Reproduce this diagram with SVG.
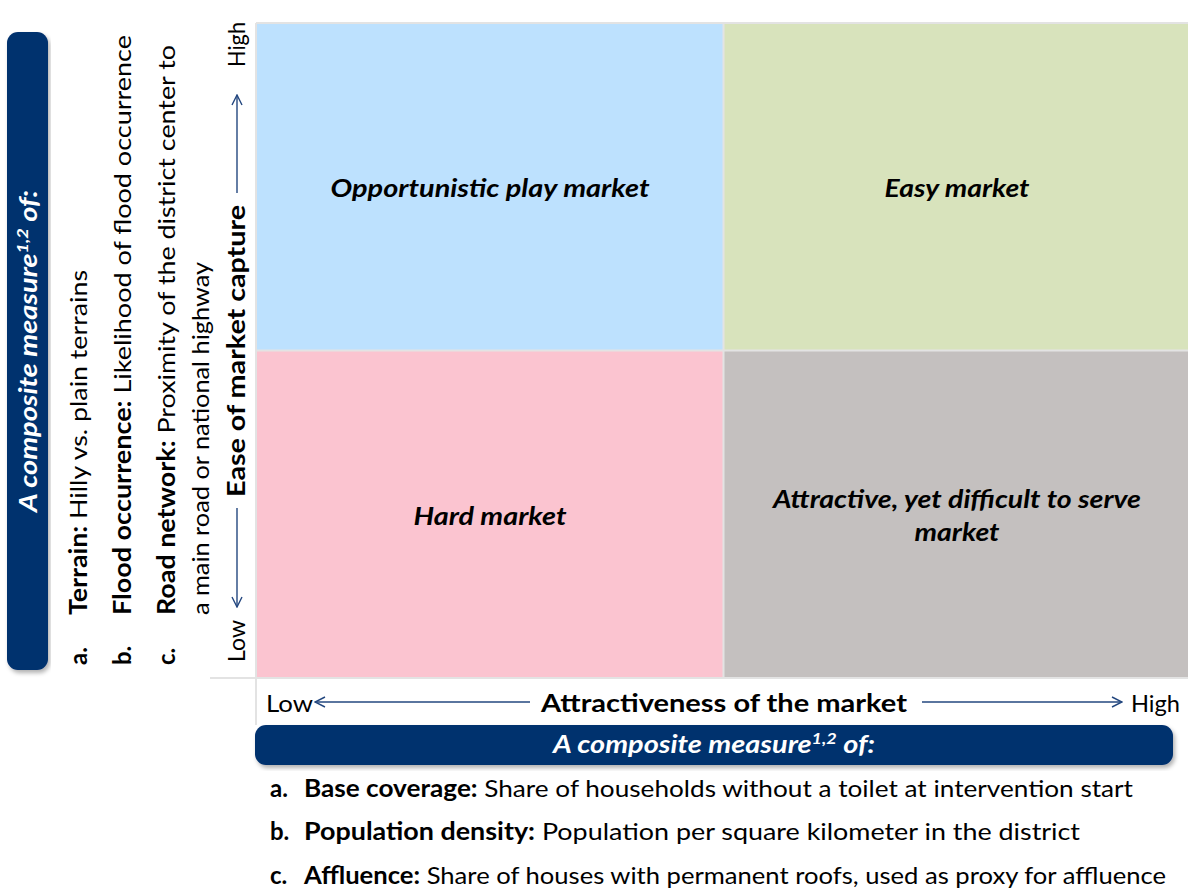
<svg xmlns="http://www.w3.org/2000/svg" width="1188" height="888" viewBox="0 0 1188 888">
<style>
text{font-family:Lato,"Liberation Sans",sans-serif;fill:#000;font-size:24px}
.b{font-weight:bold}
.q{font-weight:bold;font-style:italic;text-anchor:middle}
.w{fill:#fff;font-weight:bold;font-style:italic;text-anchor:middle}
.grid{stroke:#e3e3e3;stroke-width:2;fill:none}
.ax{stroke:#23477f;stroke-width:1.4;fill:none}
.bar{fill:#00306e}
</style>
<defs>
<marker id="ah" viewBox="0 0 12 12" refX="11" refY="6" markerWidth="12" markerHeight="12" markerUnits="userSpaceOnUse" orient="auto">
<path d="M1,1 L11,6 L1,11" fill="none" stroke="#23477f" stroke-width="1.4"/>
</marker>
<filter id="sh" x="-5%" y="-5%" width="110%" height="120%">
<feDropShadow dx="2" dy="3" stdDeviation="2" flood-color="#000" flood-opacity="0.3"/>
</filter>
</defs>
<rect width="1188" height="888" fill="#fff"/>

<g id="q-opportunistic">
<rect x="257" y="24" width="466" height="326" fill="#bde1fe"/>
<text class="q" x="490" y="197" textLength="319" lengthAdjust="spacingAndGlyphs">Opportunistic play market</text>
</g>
<g id="q-easy">
<rect x="724" y="24" width="464" height="326" fill="#d8e3bc"/>
<text class="q" x="957" y="197" textLength="145" lengthAdjust="spacingAndGlyphs">Easy market</text>
</g>
<g id="q-hard">
<rect x="257" y="351" width="466" height="326" fill="#fbc4d0"/>
<text class="q" x="490" y="525" textLength="153" lengthAdjust="spacingAndGlyphs">Hard market</text>
</g>
<g id="q-attractive">
<rect x="724" y="351" width="464" height="326" fill="#c4c0bf"/>
<text class="q" x="957" y="508" textLength="368" lengthAdjust="spacingAndGlyphs">Attractive, yet difficult to serve</text>
<text class="q" x="957" y="541" textLength="85" lengthAdjust="spacingAndGlyphs">market</text>
</g>

<g id="grid">
<line class="grid" x1="256" y1="23" x2="1188" y2="23"/>
<line class="grid" x1="256" y1="350.5" x2="1188" y2="350.5"/>
<line class="grid" x1="210" y1="678" x2="1188" y2="678"/>
<line class="grid" x1="256" y1="23" x2="256" y2="725"/>
<line class="grid" x1="723.5" y1="23" x2="723.5" y2="678"/>
</g>

<g id="connectors">
<line class="ax" x1="237" y1="193" x2="237" y2="95" marker-end="url(#ah)"/>
<line class="ax" x1="237" y1="508" x2="237" y2="607" marker-end="url(#ah)"/>
<line class="ax" x1="530" y1="702" x2="315" y2="702" marker-end="url(#ah)"/>
<line class="ax" x1="922" y1="702" x2="1122" y2="702" marker-end="url(#ah)"/>
</g>

<g id="y-axis">
<text transform="translate(245,67) rotate(-90)" textLength="45" lengthAdjust="spacingAndGlyphs">High</text>
<text transform="translate(245,662) rotate(-90)" textLength="42" lengthAdjust="spacingAndGlyphs">Low</text>
<text class="b" transform="translate(245,351) rotate(-90)" text-anchor="middle" textLength="292" lengthAdjust="spacingAndGlyphs">Ease of market capture</text>
</g>

<g id="x-axis">
<text x="266" y="712" textLength="47" lengthAdjust="spacingAndGlyphs">Low</text>
<text class="b" x="724" y="712" text-anchor="middle" textLength="366" lengthAdjust="spacingAndGlyphs">Attractiveness of the market</text>
<text x="1131" y="712" textLength="49" lengthAdjust="spacingAndGlyphs">High</text>
</g>

<g id="left-measure">
<rect class="bar" x="7" y="32" width="41" height="638" rx="11" filter="url(#sh)"/>
<text class="w" transform="translate(37,351) rotate(-90)" textLength="322" lengthAdjust="spacingAndGlyphs">A composite measure<tspan font-size="15" dy="-9">1,2</tspan><tspan dy="9"> of:</tspan></text>
</g>
<g id="left-list">
<text class="b" transform="translate(87,665) rotate(-90)">a.</text>
<text transform="translate(87,615) rotate(-90)" textLength="345" lengthAdjust="spacingAndGlyphs"><tspan class="b">Terrain:</tspan> Hilly vs. plain terrains</text>
<text class="b" transform="translate(131,665) rotate(-90)">b.</text>
<text transform="translate(131,615) rotate(-90)" textLength="580" lengthAdjust="spacingAndGlyphs"><tspan class="b">Flood occurrence:</tspan> Likelihood of flood occurrence</text>
<text class="b" transform="translate(175,665) rotate(-90)">c.</text>
<text transform="translate(175,615) rotate(-90)" textLength="570" lengthAdjust="spacingAndGlyphs"><tspan class="b">Road network:</tspan> Proximity of the district center to</text>
<text transform="translate(209,615) rotate(-90)" textLength="353" lengthAdjust="spacingAndGlyphs">a main road or national highway</text>
</g>

<g id="bottom-measure">
<rect class="bar" x="255" y="725" width="918" height="40" rx="11" filter="url(#sh)"/>
<text class="w" x="714" y="753" textLength="322" lengthAdjust="spacingAndGlyphs">A composite measure<tspan font-size="15" dy="-9">1,2</tspan><tspan dy="9"> of:</tspan></text>
</g>
<g id="bottom-list">
<text class="b" x="270" y="797">a.</text>
<text x="304" y="797" textLength="829" lengthAdjust="spacingAndGlyphs"><tspan class="b">Base coverage:</tspan> Share of households without a toilet at intervention start</text>
<text class="b" x="270" y="840">b.</text>
<text x="304" y="840" textLength="776" lengthAdjust="spacingAndGlyphs"><tspan class="b">Population density:</tspan> Population per square kilometer in the district</text>
<text class="b" x="270" y="884">c.</text>
<text x="304" y="884" textLength="862" lengthAdjust="spacingAndGlyphs"><tspan class="b">Affluence:</tspan> Share of houses with permanent roofs, used as proxy for affluence</text>
</g>
</svg>
